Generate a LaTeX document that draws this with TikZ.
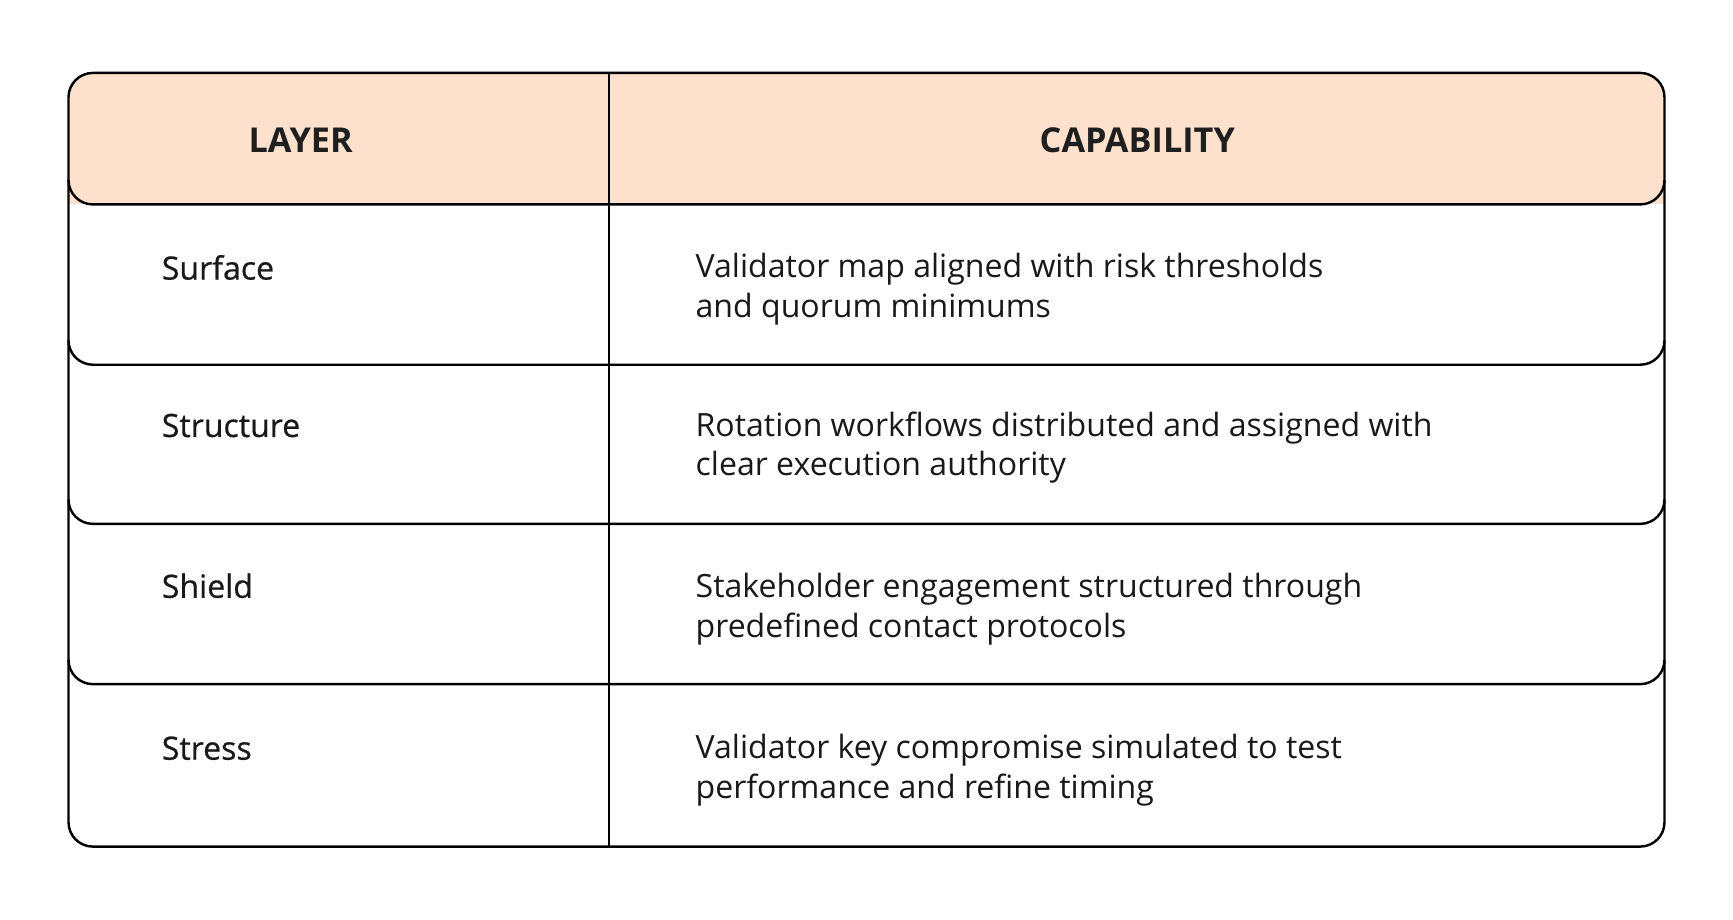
\documentclass[tikz,border=0pt]{standalone}
\usepackage{fontspec}
\setmainfont{Open Sans}[BoldFont={Open Sans Bold}]
\definecolor{peach}{HTML}{FDE1CC}
\begin{document}
\begin{tikzpicture}[x=1pt,y=1pt,line width=2.2pt,
  hdr/.style={font=\fontsize{31}{36}\selectfont\bfseries,text=black!88},
  lay/.style={anchor=west,font=\fontsize{29}{36}\selectfont\addfontfeature{FakeBold=0.6},text=black!90},
  captext/.style={anchor=west,align=left,font=\fontsize{29}{36}\selectfont,text=black!90}]
\useasboundingbox (0,0) rectangle (1568,832);
\fill[peach,rounded corners=22] (62,647) rectangle (1506,766);
\fill[peach] (62,647) rectangle (1506,680);
\fill[white,rounded corners=22] (62,600) rectangle (1506,647);
\draw[rounded corners=22] (62,66) rectangle (1506,766);
\foreach \Y in {647,502,358,213}{
  \draw (62,\Y+22) arc[start angle=180,end angle=270,radius=22] -- (1484,\Y) arc[start angle=270,end angle=360,radius=22];
}
\draw (551,66) -- (551,766);
\node[hdr] (h1) at (272,705) {LAYER};
\node[hdr] (h2) at (1029,705) {CAPABILITY};
\node[lay] (l1) at (142,590) {Surface};
\node[lay] (l2) at (142,447) {Structure};
\node[lay] (l3) at (142,302) {Shield};
\node[lay] (l4) at (142,155) {Stress};
\node[captext] (c1) at (625,570) {Validator map aligned with risk thresholds\\and quorum minimums};
\node[captext] (c2) at (625,427) {Rotation workflows distributed and assigned with\\clear execution authority};
\node[captext] (c3) at (625,281) {Stakeholder engagement structured through\\predefined contact protocols};
\node[captext] (c4) at (625,135) {Validator key compromise simulated to test\\performance and refine timing};
\end{tikzpicture}
\end{document}
